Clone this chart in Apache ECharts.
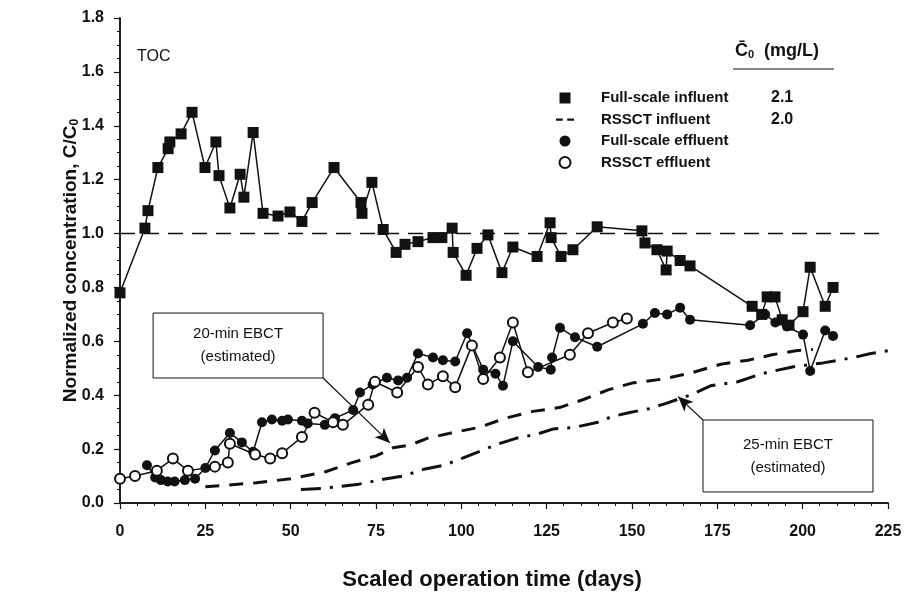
<!DOCTYPE html>
<html>
<head>
<meta charset="utf-8">
<title>TOC breakthrough</title>
<script src="https://cdn.jsdelivr.net/npm/echarts@6/dist/echarts.min.js"></script>
<style>
  html, body { margin: 0; padding: 0; background: #fff; }
  #chart { width: 909px; height: 596px; }
</style>
</head>
<body>
<div id="chart"></div>
<script>
// Full-scale influent TOC, normalized (C/C0)
const fsInfluentDays = [0, 7.3, 8.2, 11.1, 14.1, 14.6, 17.9, 21.1, 24.9, 28.1, 29.0, 32.2, 35.2, 36.3, 39.0, 41.9, 46.3, 49.8, 53.3, 56.3, 62.7, 70.6, 70.9, 73.8, 77.1, 80.9, 83.5, 87.3, 91.7, 94.3, 97.3, 97.6, 101.4, 104.6, 107.8, 111.9, 115.1, 122.2, 126.0, 126.3, 129.2, 132.7, 139.8, 152.9, 153.8, 157.3, 160.0, 160.3, 164.1, 167.0, 185.2, 188.0, 189.6, 191.9, 194.0, 196.0, 200.1, 202.2, 206.6, 208.9];
const fsInfluentC = [0.78, 1.02, 1.085, 1.245, 1.315, 1.34, 1.37, 1.45, 1.245, 1.34, 1.215, 1.095, 1.22, 1.135, 1.375, 1.075, 1.065, 1.08, 1.045, 1.115, 1.245, 1.115, 1.075, 1.19, 1.015, 0.93, 0.96, 0.97, 0.985, 0.985, 1.02, 0.93, 0.845, 0.945, 0.995, 0.855, 0.95, 0.915, 1.04, 0.985, 0.915, 0.94, 1.025, 1.01, 0.965, 0.94, 0.865, 0.935, 0.90, 0.88, 0.73, 0.70, 0.765, 0.765, 0.68, 0.66, 0.71, 0.875, 0.73, 0.80];

// RSSCT influent (reference level)
const rssctInfluentDays = [0, 225];
const rssctInfluentC = [1.0, 1.0];

// Full-scale effluent
const fsEffluentDays = [7.9, 10.3, 12, 14, 16, 19, 22, 25, 27.8, 32.2, 35.7, 39, 41.6, 44.5, 47.5, 49.2, 53.3, 55, 60, 63, 68.3, 70.3, 74, 78.2, 81.5, 84.1, 87.3, 91.7, 94.6, 98.2, 101.7, 106.4, 110, 112.2, 115.1, 122.5, 126.2, 126.6, 128.9, 133.3, 139.8, 153.2, 156.7, 160.3, 164.1, 167, 184.6, 189, 192, 195.4, 200.1, 202.2, 206.6, 208.9];
const fsEffluentC = [0.14, 0.095, 0.085, 0.08, 0.08, 0.085, 0.09, 0.13, 0.195, 0.26, 0.225, 0.19, 0.30, 0.31, 0.305, 0.31, 0.305, 0.295, 0.29, 0.315, 0.345, 0.41, 0.44, 0.465, 0.455, 0.465, 0.555, 0.54, 0.53, 0.525, 0.63, 0.495, 0.48, 0.435, 0.60, 0.505, 0.495, 0.54, 0.65, 0.615, 0.58, 0.665, 0.705, 0.70, 0.725, 0.68, 0.66, 0.70, 0.67, 0.655, 0.625, 0.49, 0.64, 0.62];

// RSSCT effluent
const rssctEffluentDays = [0, 4.4, 10.8, 15.5, 19.9, 27.8, 31.6, 32.2, 39.6, 44, 47.5, 53.3, 57, 62.4, 65.3, 72.7, 74.7, 81.2, 87.3, 90.2, 94.6, 98.2, 103.1, 106.4, 111.3, 115.1, 119.5, 131.8, 137.1, 144.4, 148.5];
const rssctEffluentC = [0.09, 0.10, 0.12, 0.165, 0.12, 0.135, 0.15, 0.22, 0.18, 0.165, 0.185, 0.245, 0.335, 0.30, 0.29, 0.365, 0.45, 0.41, 0.505, 0.44, 0.47, 0.43, 0.585, 0.46, 0.54, 0.67, 0.485, 0.55, 0.63, 0.67, 0.685];

// Estimated breakthrough, 20-min EBCT
const ebct20Days = [25, 40, 50, 60, 68, 75, 80, 85, 90, 97, 105, 113, 121, 129, 136, 143, 150, 159, 168, 176, 184, 191, 198, 203];
const ebct20C = [0.06, 0.075, 0.09, 0.115, 0.15, 0.175, 0.205, 0.215, 0.24, 0.26, 0.28, 0.315, 0.34, 0.355, 0.385, 0.42, 0.445, 0.46, 0.485, 0.515, 0.53, 0.55, 0.565, 0.57];

// Estimated breakthrough, 25-min EBCT
const ebct25Days = [53, 60, 70, 78, 83, 89, 95, 100, 106, 111, 116, 122, 127, 133, 140, 144, 149, 155, 160, 167, 173, 181, 188, 197, 206, 215, 220, 225];
const ebct25C = [0.05, 0.055, 0.07, 0.09, 0.10, 0.125, 0.14, 0.165, 0.195, 0.22, 0.24, 0.255, 0.275, 0.28, 0.30, 0.32, 0.335, 0.35, 0.37, 0.40, 0.435, 0.45, 0.48, 0.505, 0.52, 0.54, 0.555, 0.565];

// Axis ticks
const xTicks = [0, 25, 50, 75, 100, 125, 150, 175, 200, 225];
const yTicks = [0.0, 0.2, 0.4, 0.6, 0.8, 1.0, 1.2, 1.4, 1.6, 1.8];

// Legend entries and mean influent concentration
const legendNames = ['Full-scale influent', 'RSSCT influent', 'Full-scale effluent', 'RSSCT effluent'];
const meanC0 = ['2.1', '2.0', '', ''];

// Annotation boxes (data coordinates)
const box20 = { from: [9.7, 0.705], to: [59.5, 0.464], arrowTip: [79.1, 0.223], label: '20-min EBCT\n(estimated)' };
const box25 = { from: [170.8, 0.308], to: [220.6, 0.041], arrowTip: [163.5, 0.395], label: '25-min EBCT\n(estimated)' };

const pairs = (xs, ys) => xs.map((x, i) => [x, ys[i]]);

const FONT = '"Liberation Sans", Arial, Helvetica, sans-serif';
const INK = '#111';

const chart = echarts.init(document.getElementById('chart'), null, { renderer: 'canvas' });

const baseX = {
  type: 'value', min: xTicks[0], max: xTicks[xTicks.length - 1], interval: 25,
  splitLine: { show: false },
  axisLine: { show: true, lineStyle: { color: INK, width: 1.5 } },
  minorTick: { show: true, splitNumber: 5, length: 3, lineStyle: { color: INK } },
};
const baseY = {
  type: 'value', min: yTicks[0], max: yTicks[yTicks.length - 1], interval: 0.2,
  splitLine: { show: false },
  axisLine: { show: true, lineStyle: { color: INK, width: 1.5 } },
  minorTick: { show: true, splitNumber: 4, length: 3, lineStyle: { color: INK } },
};

const option = {
  backgroundColor: '#fff',
  animation: false,
  textStyle: { fontFamily: FONT },
  grid: { left: 120, right: 21, top: 18, bottom: 93 },
  xAxis: [
    Object.assign({}, baseX, {
      position: 'bottom',
      axisTick: { show: true, inside: false, length: 6, lineStyle: { color: INK, width: 1.2 } },
      axisLabel: { color: INK, fontSize: 16, fontWeight: 'bold', margin: 21, fontFamily: FONT },
      name: 'Scaled operation time (days)',
      nameLocation: 'middle', nameGap: 66,
      nameTextStyle: { color: INK, fontSize: 22, fontWeight: 'bold', fontFamily: FONT, padding: [0, 24, 0, 0] },
    }),
    Object.assign({}, baseX, {
      position: 'top',
      axisTick: { show: true, inside: true, length: 5, lineStyle: { color: INK } },
      axisLabel: { show: false },
    }),
  ],
  yAxis: [
    Object.assign({}, baseY, {
      position: 'left',
      axisTick: { show: true, inside: false, length: 6, lineStyle: { color: INK, width: 1.2 } },
      axisLabel: { color: INK, fontSize: 16, fontWeight: 'bold', margin: 16, fontFamily: FONT,
                   formatter: v => v.toFixed(1) },
      name: '{t|Normalized concentration, C/C}{s|0}',
      nameLocation: 'middle', nameGap: 39, nameRotate: 90,
      nameMoveOverlap: false,
      nameTextStyle: {
        rich: {
          t: { color: INK, fontSize: 19, fontWeight: 'bold', fontFamily: FONT },
          s: { color: INK, fontSize: 12, fontWeight: 'bold', fontFamily: FONT, verticalAlign: 'bottom', padding: [9, 0, 0, 0] },
        },
      },
    }),
    Object.assign({}, baseY, {
      position: 'right',
      axisTick: { show: true, inside: true, length: 5, lineStyle: { color: INK } },
      axisLabel: { show: false },
    }),
  ],
  legend: {
    orient: 'vertical',
    left: 551, top: 85,
    itemWidth: 18, itemHeight: 11, itemGap: 5.5,
    selectedMode: false,
    data: [
      { name: legendNames[0], icon: 'path://M0,0H10V10H0Z' },
      { name: legendNames[1], icon: 'path://M0,0H6V2H0Z M10,0H16V2H10Z' },
      { name: legendNames[2], icon: 'circle' },
      { name: legendNames[3], icon: 'emptyCircle' },
    ],
    formatter: name => `{n|${name}}{v|${meanC0[legendNames.indexOf(name)]}}`,
    textStyle: {
      padding: [0, 0, 0, 22],
      rich: {
        n: { width: 170, color: INK, fontSize: 15, fontWeight: 'bold', fontFamily: FONT },
        v: { color: INK, fontSize: 16, fontWeight: 'bold', fontFamily: FONT },
      },
    },
  },
  graphic: [
    { type: 'text', left: 137, top: 49,
      style: { text: 'TOC', fill: INK, font: `16px ${FONT}` } },
    { type: 'text', left: 735, top: 42,
      style: {
        text: '{c|C\u0304}{s|0}{c|  (mg/L)}',
        rich: {
          c: { fill: INK, fontSize: 18, fontWeight: 'bold', fontFamily: FONT },
          s: { fill: INK, fontSize: 11, fontWeight: 'bold', fontFamily: FONT, padding: [8, 0, 0, 0] },
        },
      } },
    { type: 'line', shape: { x1: 733, y1: 69, x2: 834, y2: 69 }, style: { stroke: INK, lineWidth: 1.2 } },
  ],
  series: [
    {
      name: legendNames[0], type: 'line', data: pairs(fsInfluentDays, fsInfluentC),
      symbol: 'rect', symbolSize: 11, z: 3,
      itemStyle: { color: INK },
      lineStyle: { color: INK, width: 1.5 },
    },
    {
      name: legendNames[1], type: 'line', data: pairs(rssctInfluentDays, rssctInfluentC),
      symbol: 'none', z: 2,
      itemStyle: { color: INK },
      lineStyle: { color: INK, width: 1.5, type: [15, 9] },
    },
    {
      name: legendNames[2], type: 'line', data: pairs(fsEffluentDays, fsEffluentC),
      symbol: 'circle', symbolSize: 10, z: 3,
      itemStyle: { color: INK },
      lineStyle: { color: INK, width: 1.5 },
    },
    {
      name: legendNames[3], type: 'line', data: pairs(rssctEffluentDays, rssctEffluentC),
      symbol: 'emptyCircle', symbolSize: 10, z: 4,
      itemStyle: { color: INK, borderWidth: 1.5 },
      lineStyle: { color: INK, width: 1.5 },
    },
    {
      name: '20-min EBCT', type: 'line', data: pairs(ebct20Days, ebct20C),
      symbol: 'none', z: 2,
      lineStyle: { color: INK, width: 3, type: [14, 10] },
      markArea: {
        silent: true,
        itemStyle: { color: '#fff', borderColor: INK, borderWidth: 1 },
        label: { show: true, position: 'inside', color: INK, fontSize: 15, lineHeight: 23, fontFamily: FONT },
        data: [[{ coord: box20.from, name: box20.label }, { coord: box20.to }]],
      },
      markLine: {
        silent: true, symbol: ['none', 'arrow'], symbolSize: [10, 15],
        label: { show: false },
        lineStyle: { color: INK, width: 1.2, type: 'solid' },
        data: [[{ coord: box20.to }, { coord: box20.arrowTip }]],
      },
    },
    {
      name: '25-min EBCT', type: 'line', data: pairs(ebct25Days, ebct25C),
      symbol: 'none', z: 2,
      lineStyle: { color: INK, width: 3, type: [20, 9, 3, 9] },
      markArea: {
        silent: true,
        itemStyle: { color: '#fff', borderColor: INK, borderWidth: 1 },
        label: { show: true, position: 'inside', color: INK, fontSize: 15, lineHeight: 23, fontFamily: FONT },
        data: [[{ coord: box25.from, name: box25.label }, { coord: box25.to }]],
      },
      markLine: {
        silent: true, symbol: ['none', 'arrow'], symbolSize: [10, 15],
        label: { show: false },
        lineStyle: { color: INK, width: 1.2, type: 'solid' },
        data: [[{ coord: box25.from }, { coord: box25.arrowTip }]],
      },
    },
  ],
};

chart.setOption(option);
</script>
</body>
</html>
